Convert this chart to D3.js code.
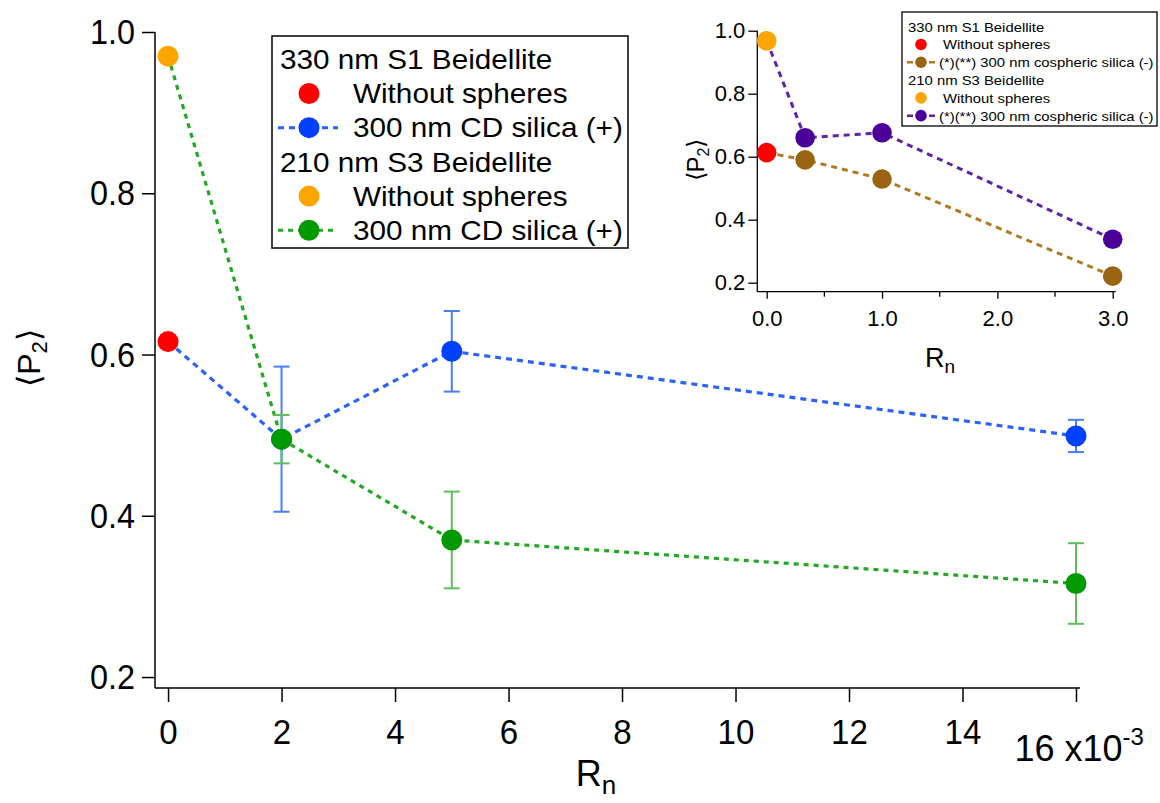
<!DOCTYPE html>
<html>
<head>
<meta charset="utf-8">
<script src="https://cdn.jsdelivr.net/npm/d3@7"></script>
<style>
  body { margin: 0; background: #fff; }
  svg { display: block; }
  text { font-family: "Liberation Sans", Arial, sans-serif; fill: #000; }
</style>
</head>
<body>
<div id="chart"></div>
<script>
// main panel: Rn (x) vs <P2> (y)
const mainX = [0, 0.002, 0.005, 0.016];
const blueY = [0.616, 0.495, 0.604, 0.499];
const blueErr = [0, 0.09, 0.05, 0.02];
const greenY = [0.970, 0.495, 0.370, 0.316];
const greenErr = [0, 0.03, 0.06, 0.05];
const redPoint = [0, 0.616];
const orangePoint = [0, 0.970];
const mainXTicks = [0, 0.002, 0.004, 0.006, 0.008, 0.010, 0.012, 0.014, 0.016];
const mainYTicks = [0.2, 0.4, 0.6, 0.8, 1.0];

// inset panel
const insetX = [0, 0.333, 1, 3];
const brownY = [0.613, 0.590, 0.529, 0.221];
const purpleY = [0.968, 0.660, 0.676, 0.338];
const insetRed = [0, 0.613];
const insetOrange = [0, 0.968];
const insetXTicks = [0, 1, 2, 3];
const insetXMinor = [0.5, 1.5, 2.5];
const insetYTicks = [0.2, 0.4, 0.6, 0.8, 1.0];

const mainLegend = [
  {type: 'head', label: '330 nm S1 Beidellite'},
  {type: 'dot', color: '#ff0000', label: 'Without spheres'},
  {type: 'line', color: '#0040ff', lc: '#2a62ff', dash: '6,5', label: '300 nm CD silica (+)'},
  {type: 'head', label: '210 nm S3 Beidellite'},
  {type: 'dot', color: '#ffa500', label: 'Without spheres'},
  {type: 'line', color: '#009a00', lc: '#22a822', dash: '5,5', label: '300 nm CD silica (+)'}
];
const insetLegend = [
  {type: 'head', label: '330 nm S1 Beidellite'},
  {type: 'dot', color: '#ff0000', label: 'Without spheres'},
  {type: 'line', color: '#9a6412', lc: '#b07a22', dash: '6,5', label: '(*)(**) 300 nm cospheric silica (-)'},
  {type: 'head', label: '210 nm S3 Beidellite'},
  {type: 'dot', color: '#ffa500', label: 'Without spheres'},
  {type: 'line', color: '#4a0099', lc: '#5e22ad', dash: '6,5', label: '(*)(**) 300 nm cospheric silica (-)'}
];

const width = 1160, height = 803;
const svg = d3.select('#chart').append('svg')
  .attr('width', width)
  .attr('height', height);

const zip = (xs, ys) => xs.map((x, i) => [x, ys[i]]);

// ---------- main panel ----------
const x = d3.scaleLinear().domain([-0.00023, 0.016]).range([155, 1076]);
const y = d3.scaleLinear().domain([0.1864, 1.0]).range([688, 32]);

const xAxis = svg.append('g')
  .attr('transform', 'translate(0,688)')
  .call(d3.axisBottom(x).tickValues(mainXTicks).tickSize(14).tickPadding(16)
    .tickFormat(d => d3.format('d')(Math.round(d * 1000))));
xAxis.select('.domain').attr('d', `M${x.range()[0]},0H${x.range()[1] + 4}`);
xAxis.selectAll('text').attr('font-size', 36).attr('transform', 'scale(0.92,1)');
xAxis.selectAll('.tick').filter(d => d === 0.016).select('text').each(function() {
  const t = d3.select(this).text('').attr('text-anchor', 'start')
    .attr('transform', null)
    .attr('x', -62).attr('y', 47);
  t.append('tspan').text('16 x10');
  t.append('tspan').attr('dy', -16).attr('font-size', 24).text('-3');
});

const yAxis = svg.append('g')
  .attr('transform', 'translate(155,0)')
  .call(d3.axisLeft(y).tickValues(mainYTicks).tickSize(13).tickPadding(7)
    .tickFormat(d3.format('.1f')));
yAxis.select('.domain').attr('d', `M0,${y.range()[0]}V${y.range()[1]}`);
yAxis.selectAll('text').attr('font-size', 36)
  .attr('x', -20 / 0.9).attr('transform', 'scale(0.9,1)');
svg.selectAll('.domain, .tick line').attr('stroke', '#000').attr('stroke-width', 1.5);

const ttl = svg.append('text').attr('font-size', 36)
  .attr('text-anchor', 'middle').attr('x', 596).attr('y', 786);
ttl.append('tspan').text('R');
ttl.append('tspan').attr('font-size', 26).attr('dy', 8).text('n');

const ytl = svg.append('text').attr('font-size', 32)
  .attr('text-anchor', 'middle')
  .attr('transform', 'translate(40,358) rotate(-90)');
ytl.append('tspan').text('\u27E8P');
ytl.append('tspan').attr('font-size', 22).attr('dy', 7).text('2');
ytl.append('tspan').attr('dy', -7).text('\u27E9');

const line = d3.line().x(d => x(d[0])).y(d => y(d[1]));

const series = [
  {ys: blueY, err: blueErr, color: '#0040ff', lc: '#2a62ff', ec: '#4a7cff', dash: '6,5'},
  {ys: greenY, err: greenErr, color: '#009a00', lc: '#22a822', ec: '#5cbf5c', dash: '5,5'}
];

series.forEach(s => {
  svg.append('path')
    .datum(zip(mainX, s.ys))
    .attr('d', line)
    .attr('fill', 'none')
    .attr('stroke', s.lc)
    .attr('stroke-width', 3.2)
    .attr('stroke-dasharray', s.dash);
});

series.forEach(s => {
  const pts = zip(mainX, s.ys).map((p, i) => ({x: p[0], y: p[1], e: s.err[i]})).slice(1);
  const g = svg.append('g').attr('stroke', s.ec).attr('stroke-width', 2);
  pts.forEach(p => {
    g.append('line').attr('x1', x(p.x)).attr('x2', x(p.x))
      .attr('y1', y(p.y - p.e)).attr('y2', y(p.y + p.e));
    [p.y - p.e, p.y + p.e].forEach(v => {
      g.append('line').attr('x1', x(p.x) - 8).attr('x2', x(p.x) + 8)
        .attr('y1', y(v)).attr('y2', y(v));
    });
  });
});

series.forEach(s => {
  svg.append('g').selectAll('circle')
    .data(zip(mainX, s.ys).slice(1))
    .join('circle')
    .attr('cx', d => x(d[0]))
    .attr('cy', d => y(d[1]))
    .attr('r', 10.5)
    .attr('fill', s.color);
});

[[redPoint, '#ff0000'], [orangePoint, '#ffa500']].forEach(([p, c]) => {
  svg.append('circle').attr('cx', x(p[0])).attr('cy', y(p[1])).attr('r', 10.5).attr('fill', c);
});

// legend builder (text slightly stretched horizontally, as in the original)
function legend(items, o) {
  const g = svg.append('g');
  const label = (tx, ty, s) => g.append('text')
    .attr('transform', `translate(${tx},${ty}) scale(${o.sx},1)`)
    .attr('font-size', o.fs).text(s);
  g.append('rect')
    .attr('x', o.x).attr('y', o.y).attr('width', o.w).attr('height', o.h)
    .attr('fill', '#fff').attr('stroke', '#000').attr('stroke-width', o.bw);
  items.forEach((it, i) => {
    const by = o.y + o.first + i * o.step;
    if (it.type === 'head') {
      label(o.x + o.headX, by, it.label);
      return;
    }
    const cy = by - o.fs * 0.36;
    if (it.type === 'line') {
      g.append('line')
        .attr('x1', o.x + o.lineX0).attr('x2', o.x + o.lineX1)
        .attr('y1', cy).attr('y2', cy)
        .attr('stroke', it.lc).attr('stroke-width', o.lw)
        .attr('stroke-dasharray', it.dash);
    }
    g.append('circle').attr('cx', o.x + o.markX).attr('cy', cy)
      .attr('r', o.r).attr('fill', it.color);
    label(o.x + (it.type === 'line' ? o.textX2 : o.textX), by, it.label);
  });
}

legend(mainLegend, {
  x: 272, y: 36, w: 356, h: 212, bw: 1.5, first: 33, step: 34.2, fs: 27, sx: 1.1,
  headX: 8, markX: 37, r: 10.5, lineX0: 6, lineX1: 66, lw: 3,
  textX: 81, textX2: 81
});

// ---------- inset ----------
const ix = d3.scaleLinear().domain([-0.0815, 3.0]).range([757.3, 1112.7]);
const iy = d3.scaleLinear().domain([0.1714, 1.0]).range([291.7, 30.7]);

const ixAxis = svg.append('g')
  .attr('transform', 'translate(0,291.7)')
  .call(d3.axisBottom(ix).tickValues(insetXTicks).tickSize(7).tickPadding(12)
    .tickFormat(d3.format('.1f')));
ixAxis.select('.domain').attr('d', `M${ix.range()[0]},0H${ix.range()[1] + 3}`);
ixAxis.selectAll('text').attr('font-size', 22);
ixAxis.append('g').selectAll('line')
  .data(insetXMinor)
  .join('line')
  .attr('x1', d => ix(d)).attr('x2', d => ix(d))
  .attr('y1', 0).attr('y2', 5);

const iyAxis = svg.append('g')
  .attr('transform', 'translate(757.3,0)')
  .call(d3.axisLeft(iy).tickValues(insetYTicks).tickSize(9).tickPadding(3)
    .tickFormat(d3.format('.1f')));
iyAxis.select('.domain').attr('d', `M0,${iy.range()[0]}V${iy.range()[1]}`);
iyAxis.selectAll('text').attr('font-size', 22);
[ixAxis, iyAxis].forEach(a => a.selectAll('.domain, line').attr('stroke', '#000').attr('stroke-width', 1.3));

const ixt = svg.append('text').attr('font-size', 27)
  .attr('text-anchor', 'middle').attr('x', 940).attr('y', 367);
ixt.append('tspan').text('R');
ixt.append('tspan').attr('font-size', 19).attr('dy', 6).text('n');

const iyt = svg.append('text').attr('font-size', 24)
  .attr('text-anchor', 'middle')
  .attr('transform', 'translate(704,160) rotate(-90)');
iyt.append('tspan').text('\u27E8P');
iyt.append('tspan').attr('font-size', 16).attr('dy', 5).text('2');
iyt.append('tspan').attr('dy', -5).text('\u27E9');

const iline = d3.line().x(d => ix(d[0])).y(d => iy(d[1]));
const iseries = [
  {ys: brownY, color: '#9a6412', lc: '#b07a22'},
  {ys: purpleY, color: '#4a0099', lc: '#5e22ad'}
];
iseries.forEach(s => {
  svg.append('path')
    .datum(zip(insetX, s.ys))
    .attr('d', iline)
    .attr('fill', 'none')
    .attr('stroke', s.lc)
    .attr('stroke-width', 3)
    .attr('stroke-dasharray', '6,5');
});
iseries.forEach(s => {
  svg.append('g').selectAll('circle')
    .data(zip(insetX, s.ys).slice(1))
    .join('circle')
    .attr('cx', d => ix(d[0]))
    .attr('cy', d => iy(d[1]))
    .attr('r', 9.8)
    .attr('fill', s.color);
});
[[insetRed, '#ff0000'], [insetOrange, '#ffa500']].forEach(([p, c]) => {
  svg.append('circle').attr('cx', ix(p[0])).attr('cy', iy(p[1])).attr('r', 9.8).attr('fill', c);
});

legend(insetLegend, {
  x: 902, y: 12, w: 255, h: 114, bw: 1.3, first: 19.5, step: 17.8, fs: 13.5, sx: 1.1,
  headX: 6, markX: 19, r: 5.8, lineX0: 5, lineX1: 33, lw: 2.5,
  textX: 41, textX2: 37
});
</script>
</body>
</html>
